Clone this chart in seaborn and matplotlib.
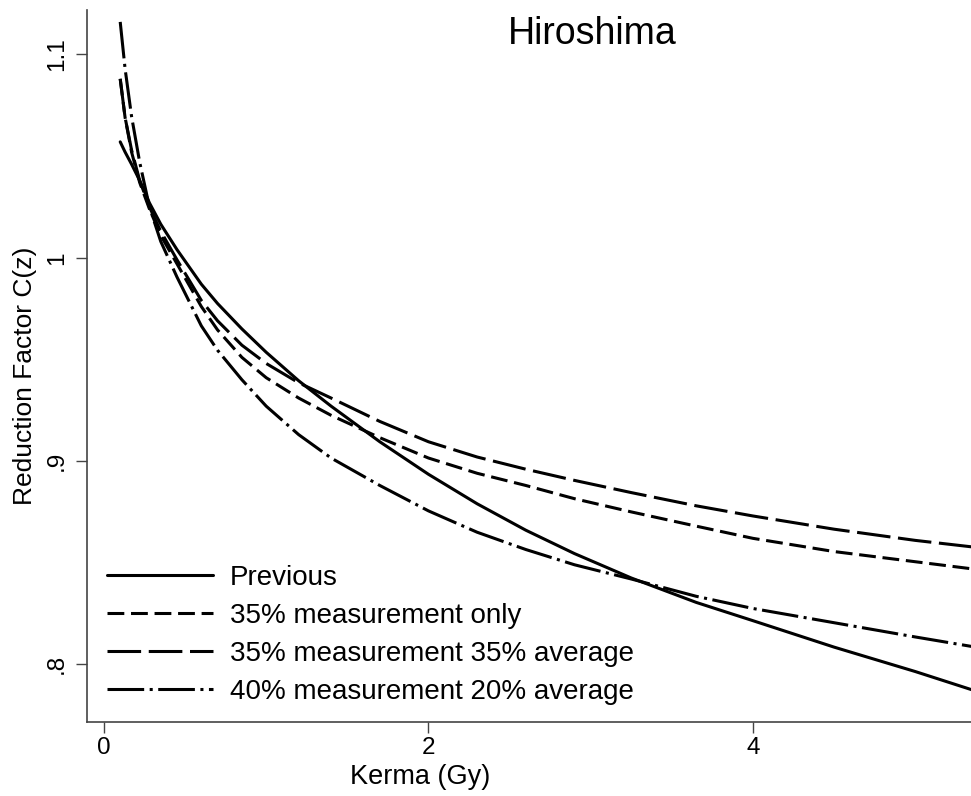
import numpy as np
import pandas as pd
import matplotlib
matplotlib.use("Agg")
import matplotlib.pyplot as plt
from matplotlib.lines import Line2D
import seaborn as sns

# ---- data ----
kerma = [0.1, 0.13, 0.17, 0.22, 0.28, 0.35, 0.45, 0.6, 0.7, 0.85, 1.0, 1.2, 1.4,
         1.7, 2.0, 2.3, 2.6, 2.9, 3.25, 3.65, 4.0, 4.5, 5.0, 5.35]
previous = [1.057, 1.052, 1.046, 1.038, 1.027, 1.0165, 1.004, 0.987, 0.9775, 0.965,
            0.9535, 0.9395, 0.927, 0.9095, 0.8935, 0.879, 0.866, 0.8545, 0.8425,
            0.8305, 0.8215, 0.8085, 0.7965, 0.7875]
meas35_only = [1.088, 1.069, 1.052, 1.037, 1.024, 1.011, 0.997, 0.976, 0.9645, 0.951,
               0.941, 0.931, 0.9225, 0.9115, 0.9015, 0.894, 0.888, 0.8815, 0.875,
               0.868, 0.862, 0.8555, 0.8505, 0.847]
meas35_avg35 = [1.088, 1.069, 1.053, 1.038, 1.025, 1.013, 0.999, 0.979, 0.969, 0.957,
                0.948, 0.9385, 0.931, 0.9195, 0.9095, 0.902, 0.896, 0.8905, 0.8845,
                0.878, 0.873, 0.8665, 0.861, 0.8578]
meas40_avg20 = [1.116, 1.093, 1.0695, 1.047, 1.025, 1.008, 0.9905, 0.9665, 0.9545, 0.940,
                0.927, 0.913, 0.9015, 0.888, 0.8755, 0.865, 0.8565, 0.849, 0.842,
                0.8335, 0.8275, 0.8205, 0.8135, 0.8088]

series_labels = ["Previous", "35% measurement only",
                 "35% measurement 35% average", "40% measurement 20% average"]
x_ticks = [0, 2, 4]
x_tick_labels = ["0", "2", "4"]
y_ticks = [0.8, 0.9, 1.0, 1.1]
y_tick_labels = [".8", ".9", "1", "1.1"]
title_text = "Hiroshima"
x_label = "Kerma (Gy)"
y_label = "Reduction Factor C(z)"

df = pd.DataFrame({
    "Kerma": kerma * 4,
    "C": previous + meas35_only + meas35_avg35 + meas40_avg20,
    "Series": np.repeat(series_labels, len(kerma)),
})

# ---- style ----
sns.set_theme(style="white")
plt.rcParams["font.family"] = ["Liberation Sans", "DejaVu Sans"]
plt.rcParams["text.color"] = "black"
plt.rcParams["axes.labelcolor"] = "black"

fig = plt.figure(figsize=(9.71, 7.96), dpi=100)
ax = fig.add_axes([0.0901, 0.0933, 0.9099, 0.894])

dash_map = {
    series_labels[0]: "",
    series_labels[1]: (5.5, 2.2),
    series_labels[2]: (11, 2.5),
    series_labels[3]: (12, 1.8, 1, 1.8),
}

sns.lineplot(data=df, x="Kerma", y="C", style="Series", style_order=series_labels,
             dashes=dash_map, color="black", linewidth=2.2, estimator=None,
             sort=True, ax=ax, legend=False)

ax.set_xlim(-0.1017, 5.344)
ax.set_ylim(0.7718, 1.1218)

spine_col = "#444444"
for s in ["top", "right"]:
    ax.spines[s].set_visible(False)
for s in ["left", "bottom"]:
    ax.spines[s].set_color(spine_col)
    ax.spines[s].set_linewidth(1.2)

ax.set_xticks(x_ticks, labels=x_tick_labels)
ax.set_yticks(y_ticks, labels=y_tick_labels, rotation=90, va="center")
ax.tick_params(axis="both", direction="out", length=8, width=1.0, color=spine_col,
               labelsize=17.5, bottom=True, left=True, labelcolor="black")
ax.tick_params(axis="x", pad=3)
ax.tick_params(axis="y", pad=6)

ax.set_xlabel(x_label, fontsize=19.5, color="black")
ax.xaxis.label.set_va("center")
ax.xaxis.set_label_coords(0.376, -0.0777)
ax.set_ylabel(y_label, fontsize=19, color="black")
ax.yaxis.label.set_va("center")
ax.yaxis.set_label_coords(-0.0707, 0.486)

ax.set_title(title_text, fontsize=27, x=0.571, y=0.966, va="center", pad=0,
             color="black")

handles = []
for lab in series_labels:
    d = dash_map[lab]
    if d == "":
        h = Line2D([], [], color="black", lw=2.2, linestyle="-")
    else:
        h = Line2D([], [], color="black", lw=2.2, dashes=d)
    handles.append(h)
leg = ax.legend(handles, series_labels, loc="lower left",
                bbox_to_anchor=(107 / 971, (796 - 705) / 796), bbox_transform=fig.transFigure,
                frameon=False, borderpad=0, borderaxespad=0, fontsize=20,
                handlelength=3.83, handletextpad=0.58, labelspacing=0.43)
for t in leg.get_texts():
    t.set_color("black")

fig.savefig("out.png", dpi=100)
